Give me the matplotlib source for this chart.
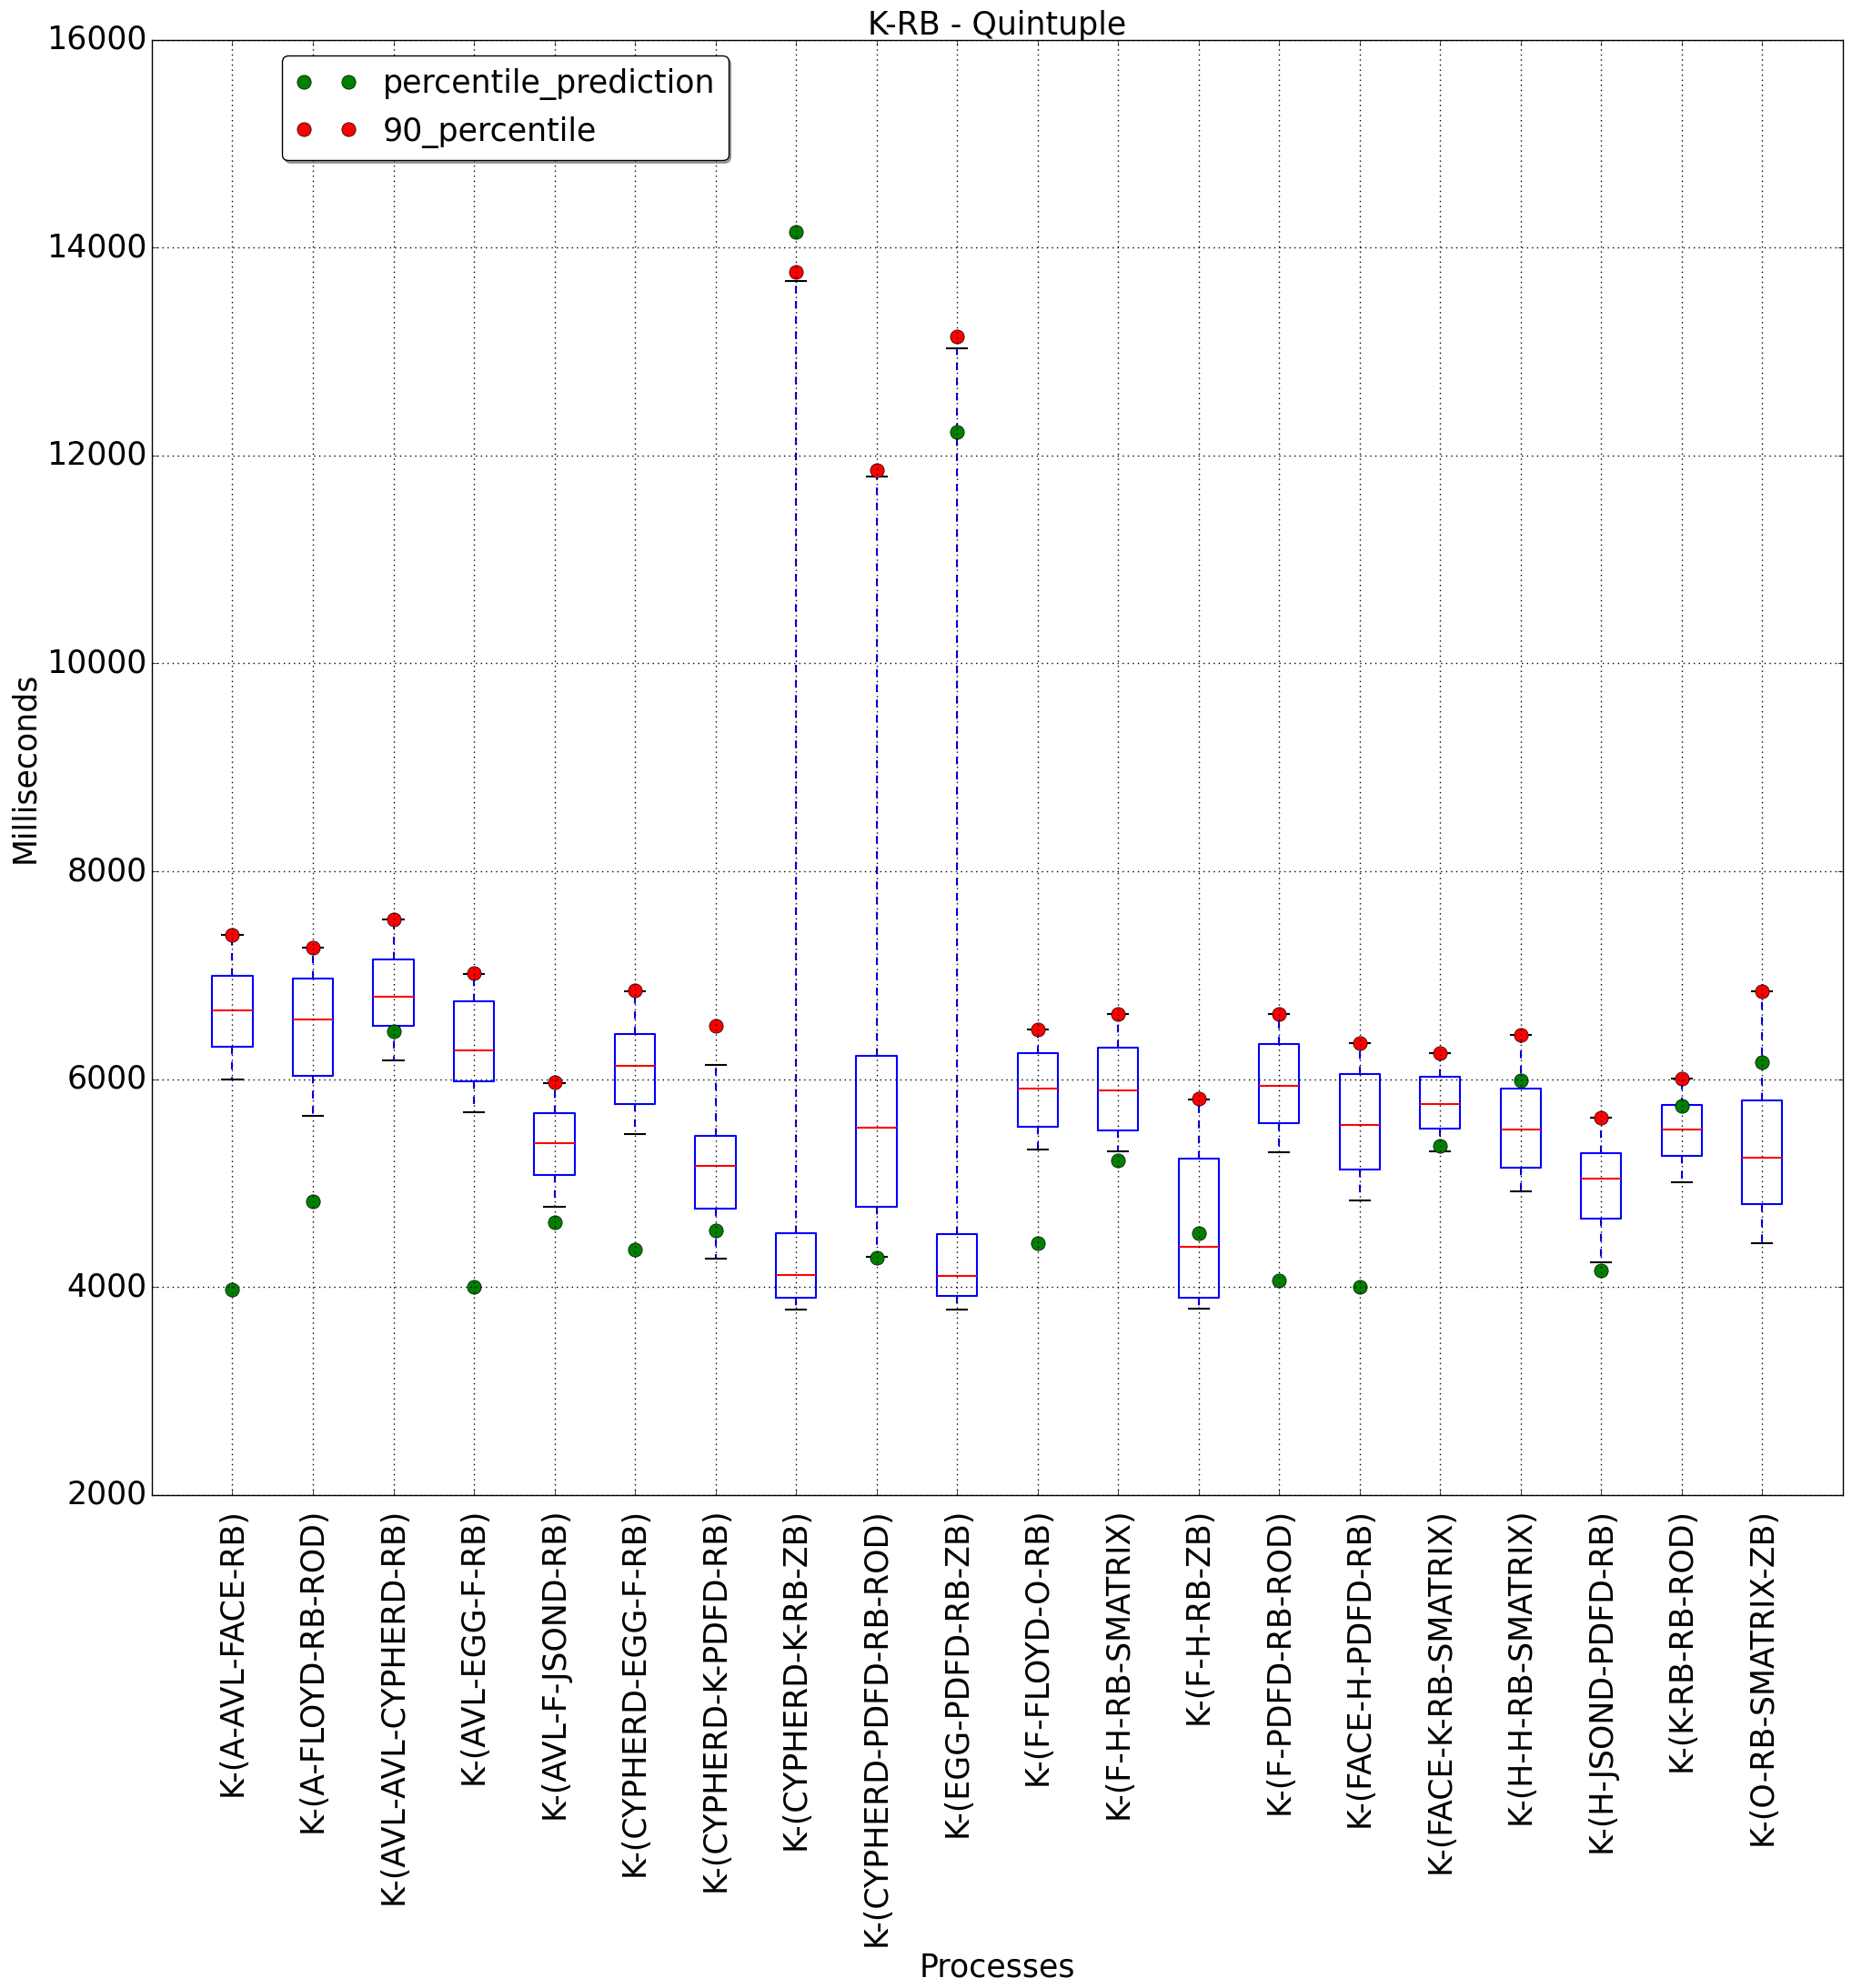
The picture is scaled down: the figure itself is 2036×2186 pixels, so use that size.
import matplotlib
matplotlib.use('Agg')
import matplotlib.pyplot as plt

# old style look (blue boxes, red medians, dashed whiskers)
plt.style.use('classic')

processes = ['K-(A-AVL-FACE-RB)', 'K-(A-FLOYD-RB-ROD)', 'K-(AVL-AVL-CYPHERD-RB)',
             'K-(AVL-EGG-F-RB)', 'K-(AVL-F-JSOND-RB)', 'K-(CYPHERD-EGG-F-RB)',
             'K-(CYPHERD-K-PDFD-RB)', 'K-(CYPHERD-K-RB-ZB)', 'K-(CYPHERD-PDFD-RB-ROD)',
             'K-(EGG-PDFD-RB-ZB)', 'K-(F-FLOYD-O-RB)', 'K-(F-H-RB-SMATRIX)',
             'K-(F-H-RB-ZB)', 'K-(F-PDFD-RB-ROD)', 'K-(FACE-H-PDFD-RB)',
             'K-(FACE-K-RB-SMATRIX)', 'K-(H-H-RB-SMATRIX)', 'K-(H-JSOND-PDFD-RB)',
             'K-(K-RB-RB-ROD)', 'K-(O-RB-SMATRIX-ZB)']

# box statistics (milliseconds)
whisker_low = [6000, 5645, 6180, 5682, 4770, 5470, 4273, 3782, 4288, 3782,
               5326, 5305, 3791, 5294, 4837, 5308, 4924, 4236, 5006, 4419]
q1 = [6311, 6032, 6514, 5980, 5077, 5762, 4755, 3895, 4776, 3913,
      5544, 5509, 3895, 5578, 5134, 5529, 5151, 4663, 5265, 4797]
median = [6661, 6572, 6793, 6278, 5384, 6127, 5166, 4113, 5535, 4105,
          5907, 5892, 4387, 5936, 5561, 5762, 5520, 5041, 5520, 5247]
q3 = [6993, 6968, 7153, 6747, 5673, 6431, 5455, 4517, 6224, 4506,
      6250, 6302, 5238, 6337, 6049, 6023, 5907, 5291, 5753, 5797]
whisker_high = [7390, 7266, 7536, 7015, 5962, 6846, 6136, 13680, 11800, 13029,
                6477, 6625, 5805, 6625, 6349, 6253, 6422, 5631, 6009, 6844]

percentile_prediction = [3978, 4826, 6462, 4006, 4623, 4359, 4543, 14154, 4282, 12227,
                         4419, 5215, 4517, 4064, 4000, 5355, 5988, 4163, 5747, 6166]
percentile_90 = [7392, 7266, 7536, 7021, 5971, 6852, 6514, 13767, 11858, 13148,
                 6480, 6625, 5811, 6625, 6349, 6253, 6422, 5631, 6009, 6844]

positions = list(range(1, len(processes) + 1))

stats = []
for i in range(len(processes)):
    stats.append({'whislo': whisker_low[i], 'q1': q1[i], 'med': median[i],
                  'q3': q3[i], 'whishi': whisker_high[i], 'fliers': []})

fig = plt.figure(figsize=(20.36, 21.86), dpi=100, facecolor='white')
ax = fig.add_axes([0.082, 0.248, 0.913, 0.732])

ax.bxp(stats, positions=positions, widths=0.5, showfliers=False,
       boxprops=dict(color='b', linewidth=1.5),
       medianprops=dict(color='r', linewidth=1.5),
       whiskerprops=dict(color='b', linestyle='--', linewidth=1.5),
       capprops=dict(color='k', linewidth=1.5))

ax.plot(positions, percentile_prediction, 'o', color='green', markersize=11,
        markeredgecolor='k', markeredgewidth=0.5, label='percentile_prediction')
ax.plot(positions, percentile_90, 'o', color='red', markersize=11,
        markeredgecolor='k', markeredgewidth=0.5, label='90_percentile')

ax.set_xlim(0, 21)
ax.set_ylim(2000, 16000)
ax.set_yticks(range(2000, 16001, 2000))
ax.set_xticks(positions)
ax.set_xticklabels(processes, rotation=90, fontsize=25)
ax.tick_params(axis='y', labelsize=25)
ax.tick_params(axis='x', pad=10)
ax.grid(True, color='k', linestyle=':', linewidth=1)

ax.set_title('K-RB - Quintuple', fontsize=25, pad=4)
ax.set_xlabel('Processes', fontsize=25)
ax.set_ylabel('Milliseconds', fontsize=25)

ax.legend(loc='upper left', bbox_to_anchor=(0.077, 0.989), borderaxespad=0,
          numpoints=2, fancybox=True, shadow=True, fontsize=25)

fig.savefig('out.png', dpi=100, facecolor='white')
